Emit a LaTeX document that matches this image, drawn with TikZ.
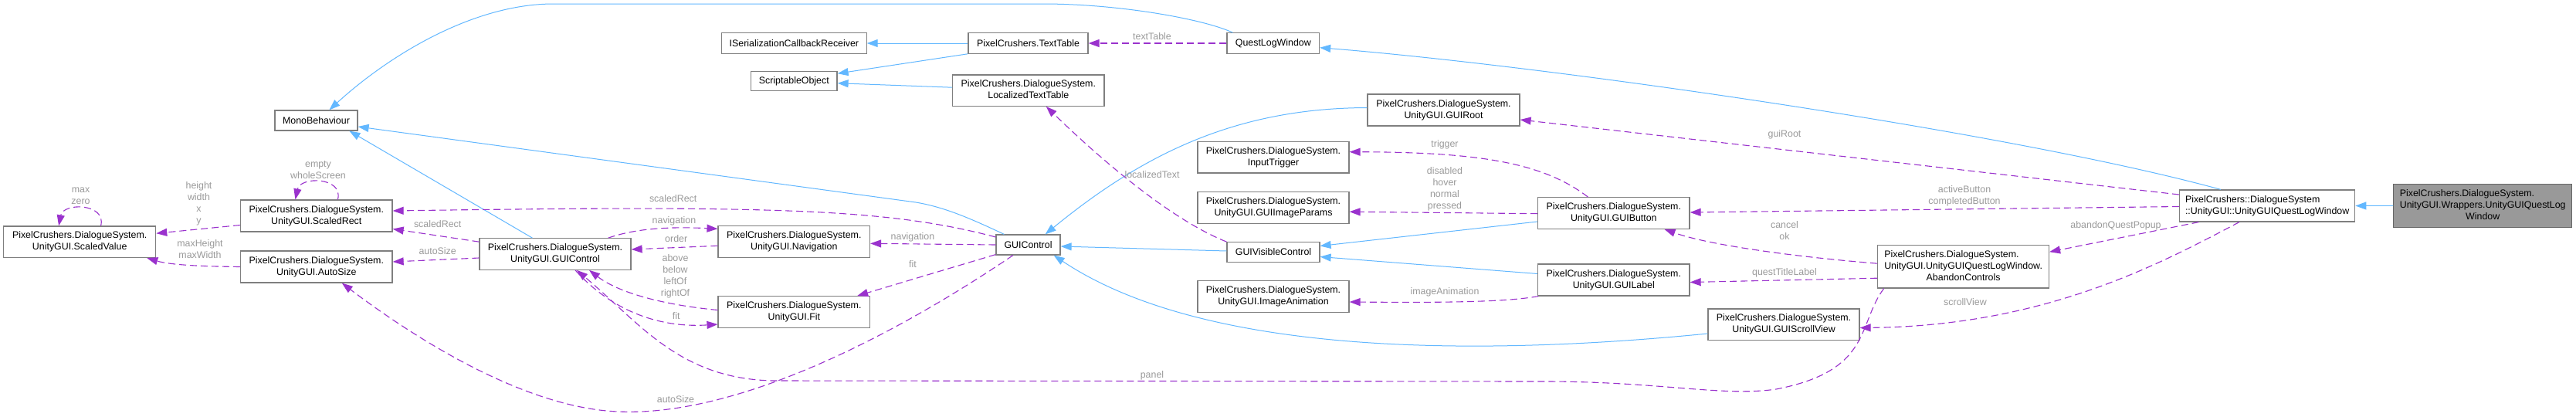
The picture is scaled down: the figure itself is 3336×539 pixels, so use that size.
\documentclass[tikz,border=0pt]{standalone}
\usepackage{fontspec}
\setmainfont{Liberation Sans}
\usetikzlibrary{arrows.meta,calc}
\definecolor{inhc}{HTML}{63B8FF}
\definecolor{usec}{HTML}{9A32CD}
\definecolor{lblc}{HTML}{9A9A9A}
\definecolor{boxc}{HTML}{7F7F7F}
\definecolor{grayfill}{HTML}{999999}
\definecolor{grayline}{HTML}{666666}
\newcommand\tcc[1]{\begin{tabular}{@{}c@{}}#1\end{tabular}}
\newcommand\tll[1]{\begin{tabular}{@{}l@{}}#1\end{tabular}}
\newcommand\mcc[1]{\multicolumn{1}{@{}c@{}}{#1}}
\begin{document}
\begin{tikzpicture}[x=1pt,y=-1pt,
  font=\fontsize{12.4}{15}\selectfont,
  cls/.style={draw=boxc, line width=1.2pt, fill=white, inner sep=0pt, text=black},
  inh/.style={draw=inhc, line width=1pt, -{Triangle[length=14pt,width=10pt]}},
  use/.style={draw=usec, line width=1.1pt, dash pattern=on 9pt off 5pt, -{Triangle[length=14pt,width=10pt]}},
  lbl/.style={text=lblc, inner sep=0pt}]
\fill[white] (0,0) rectangle (3336,539);
\useasboundingbox (0,0) rectangle (3336,539);

% nodes
\node[cls,minimum width=197pt,minimum height=40.5pt] (SV) at (103.2,313.2) {\tcc{PixelCrushers.DialogueSystem.\\UnityGUI.ScaledValue}};
\node[cls,minimum width=196.5pt,minimum height=41pt] (SR) at (409.8,279.5) {\tcc{PixelCrushers.DialogueSystem.\\UnityGUI.ScaledRect}};
\node[cls,minimum width=196.5pt,minimum height=41pt] (AS) at (409.8,345.5) {\tcc{PixelCrushers.DialogueSystem.\\UnityGUI.AutoSize}};
\node[cls,minimum width=107pt,minimum height=26pt] (MB) at (409.5,156) {MonoBehaviour};
\node[cls,minimum width=196pt,minimum height=40.5pt] (UGC) at (719,329) {\tcc{PixelCrushers.DialogueSystem.\\UnityGUI.GUIControl}};
\node[cls,minimum width=196.5pt,minimum height=41pt] (NAV) at (1028.3,313.3) {\tcc{PixelCrushers.DialogueSystem.\\UnityGUI.Navigation}};
\node[cls,minimum width=196.5pt,minimum height=40.6pt] (FIT) at (1028.3,404) {\tcc{PixelCrushers.DialogueSystem.\\UnityGUI.Fit}};
\node[cls,minimum width=187.4pt,minimum height=26.3pt] (ISCR) at (1028.4,56) {ISerializationCallbackReceiver};
\node[cls,minimum width=111.4pt,minimum height=25pt] (SO) at (1028.3,105.2) {ScriptableObject};
\node[cls,minimum width=155pt,minimum height=26.3pt] (TT) at (1331.5,56) {PixelCrushers.TextTable};
\node[cls,minimum width=196.4pt,minimum height=40.3pt] (LTT) at (1331.8,117.2) {\tcc{PixelCrushers.DialogueSystem.\\LocalizedTextTable}};
\node[cls,minimum width=83pt,minimum height=26pt] (GC) at (1331.5,317) {GUIControl};
\node[cls,minimum width=119.5pt,minimum height=26.3pt] (QLW) at (1648.8,56) {QuestLogWindow};
\node[cls,minimum width=197pt,minimum height=41pt] (GR) at (1869.5,142.5) {\tcc{PixelCrushers.DialogueSystem.\\UnityGUI.GUIRoot}};
\node[cls,minimum width=196pt,minimum height=40.7pt] (IT) at (1649,203.7) {\tcc{PixelCrushers.DialogueSystem.\\InputTrigger}};
\node[cls,minimum width=196pt,minimum height=41pt] (GIP) at (1649,269.2) {\tcc{PixelCrushers.DialogueSystem.\\UnityGUI.GUIImageParams}};
\node[cls,minimum width=120pt,minimum height=25.6pt] (GVC) at (1649,326.5) {GUIVisibleControl};
\node[cls,minimum width=196pt,minimum height=40.6pt] (IA) at (1649,384) {\tcc{PixelCrushers.DialogueSystem.\\UnityGUI.ImageAnimation}};
\node[cls,minimum width=196.5pt,minimum height=40.6pt] (GB) at (2089.8,276) {\tcc{PixelCrushers.DialogueSystem.\\UnityGUI.GUIButton}};
\node[cls,minimum width=196.5pt,minimum height=41pt] (GL) at (2089.8,362.5) {\tcc{PixelCrushers.DialogueSystem.\\UnityGUI.GUILabel}};
\node[cls,minimum width=221.8pt,minimum height=55.7pt] (AC) at (2542.6,345.2) {\tll{PixelCrushers.DialogueSystem.\\UnityGUI.UnityGUIQuestLogWindow.\\\mcc{AbandonControls}}};
\node[cls,minimum width=196pt,minimum height=40.2pt] (GSV) at (2310,420) {\tcc{PixelCrushers.DialogueSystem.\\UnityGUI.GUIScrollView}};
\node[cls,minimum width=227.2pt,minimum height=41pt] (UGQLW) at (2936.1,266.5) {\tll{PixelCrushers::DialogueSystem\\\mcc{::UnityGUI::UnityGUIQuestLogWindow}}};
\node[cls,draw=grayline,fill=grayfill,minimum width=231.2pt,minimum height=56.4pt] (W) at (3215.2,266.4) {\tll{PixelCrushers.DialogueSystem.\\UnityGUI.Wrappers.UnityGUIQuestLog\\\mcc{Window}}};

% inheritance
\draw[inh] (W.west) -- (UGQLW.east);
\draw[inh] ($(UGQLW.north west)+(54,0)$) .. controls (2600,170) and (2000,85) .. ($(QLW.east)+(0,5.7)$);
\draw[inh] ($(QLW.north west)+(8,0)$) .. controls (1560,25) and (1450,5) .. (1350,5) -- (717,5) .. controls (610,5) and (500,75) .. ($(MB.north west)+(71,0)$);
\draw[inh] ($(UGC.north west)+(69,0)$) -- ($(MB.south west)+(97,0)$);
\draw[inh] ($(GC.north west)+(11,0)$) .. controls (1255,282) and (1222,268) .. (1186,262) -- ($(MB.east)+(0,8)$);
\draw[inh] (TT.west) -- (ISCR.east);
\draw[inh] (TT.south west) -- ($(SO.east)+(0,-10)$);
\draw[inh] ($(LTT.west)+(0,-4)$) -- ($(SO.east)+(0,2.5)$);
\draw[inh] ($(GR.west)+(0,-3)$) .. controls (1600,140) and (1480,200) .. ($(GC.north east)+(-20,0)$);
\draw[inh] ($(GVC.west)+(0,-1.5)$) -- ($(GC.east)+(0,2)$);
\draw[inh] ($(GSV.west)+(0,12)$) .. controls (1950,458) and (1570,468) .. ($(GC.south east)+(-9,0)$);
\draw[inh] ($(GB.west)+(0,11)$) -- ($(GVC.east)+(0,-8)$);
\draw[inh] ($(GL.west)+(0,-8)$) -- ($(GVC.east)+(0,6)$);

% usage
\draw[use] (QLW.west) -- (TT.east);
\draw[use] ($(UGQLW.west)+(0,-14.5)$) -- ($(GR.east)+(0,12.5)$);
\draw[use] ($(UGQLW.west)+(0,1)$) -- ($(GB.east)+(0,-1)$);
\draw[use] ($(UGQLW.south west)+(25.5,0)$) -- ($(AC.east)+(0,-19)$);
\draw[use] ($(UGQLW.south west)+(78,0)$) .. controls (2800,340) and (2650,422) .. ($(GSV.east)+(0,4.5)$);
\draw[use] ($(AC.west)+(0,-4)$) .. controls (2330,333) and (2215,318) .. ($(GB.south west)+(164.5,0)$);
\draw[use] ($(AC.west)+(0,15)$) -- ($(GL.east)+(0,3)$);
\draw[use] ($(AC.south west)+(8.5,0)$) .. controls (2405,420) and (2425,480) .. (2300,504) .. controls (2230,514) and (2150,494) .. (2000,494) -- (1000,493) .. controls (880,490) and (830,420) .. ($(UGC.south)+(28,0)$);
\draw[use] ($(GB.north west)+(65.5,0)$) .. controls (2000,212) and (1920,197) .. ($(IT.east)+(0,-7)$);
\draw[use] ($(GB.west)+(0,0.7)$) -- ($(GIP.east)+(0,5)$);
\draw[use] ($(GL.south west)+(1.5,0)$) .. controls (1950,391) and (1880,392) .. ($(IA.east)+(0,7)$);
\draw[use] (GVC.north west) .. controls (1530,290) and (1450,230) .. ($(LTT.south)+(23,0)$);
\draw[use] ($(GC.west)+(0,-10)$) .. controls (1150,270) and (1000,266) .. ($(SR.east)+(0,-6.5)$);
\draw[use] (GC.west) -- ($(NAV.east)+(0,2)$);
\draw[use] ($(GC.south west)+(0,-1)$) -- ($(FIT.north east)+(-17,0)$);
\draw[use] ($(GC.south west)+(22.5,0)$) .. controls (1150,440) and (950,540) .. (800,533) .. controls (680,528) and (540,440) .. ($(AS.south)+(33,0)$);
\draw[use] ($(UGC.north west)+(0,5)$) -- ($(SR.east)+(0,17)$);
\draw[use] ($(UGC.west)+(0,5)$) -- ($(AS.east)+(0,-6.5)$);
\draw[use] ($(UGC.north east)+(-30,0)$) .. controls (820,297) and (860,293) .. ($(NAV.west)+(0,-17)$);
\draw[use] ($(NAV.west)+(0,5)$) -- ($(UGC.east)+(0,-6)$);
\draw[use] ($(FIT.west)+(0,-2.5)$) .. controls (870,396) and (805,382) .. ($(UGC.south)+(44,0)$);
\draw[use] ($(UGC.south)+(26,0)$) .. controls (790,400) and (850,425) .. ($(FIT.west)+(0,16)$);
\draw[use] ($(SR.west)+(0,12)$) -- ($(SV.east)+(0,-11)$);
\draw[use] (AS.west) .. controls (260,345) and (220,343) .. ($(SV.south east)+(-12,0)$);
\draw[use] ($(SV.north west)+(126.5,0)$) .. controls (138,263) and (82,262) .. ($(SV.north west)+(72,0)$);
\draw[use] ($(SR.north west)+(126.5,0)$) .. controls (445,229) and (389,228) .. ($(SR.north west)+(71.5,0)$);

% labels
\node[lbl] (l1) at (1492,48) {\tcc{textTable}};
\node[lbl] (l2) at (2311,174) {\tcc{guiRoot}};
\node[lbl] (l3) at (2544,254) {\tcc{activeButton\\completedButton}};
\node[lbl] (l4) at (2740,292) {\tcc{abandonQuestPopup}};
\node[lbl] (l5) at (2545,392) {\tcc{scrollView}};
\node[lbl] (l6) at (2311,299.6) {\tcc{cancel\\ok}};
\node[lbl] (l7) at (2311,353.4) {\tcc{questTitleLabel}};
\node[lbl] (l8) at (1492,486) {\tcc{panel}};
\node[lbl] (l9) at (1871,187) {\tcc{trigger}};
\node[lbl] (l10) at (1871,244.5) {\tcc{disabled\\hover\\normal\\pressed}};
\node[lbl] (l11) at (1871,378.7) {\tcc{imageAnimation}};
\node[lbl] (l12) at (1492,227) {\tcc{localizedText}};
\node[lbl] (l13) at (871.7,258.7) {\tcc{scaledRect}};
\node[lbl] (l14) at (1182,307) {\tcc{navigation}};
\node[lbl] (l15) at (1182,343.7) {\tcc{fit}};
\node[lbl] (l16) at (875,518.7) {\tcc{autoSize}};
\node[lbl] (l17) at (566.7,291.7) {\tcc{scaledRect}};
\node[lbl] (l18) at (566.7,326.7) {\tcc{autoSize}};
\node[lbl] (l19) at (873,286.7) {\tcc{navigation}};
\node[lbl] (l20) at (875.7,310.7) {\tcc{order}};
\node[lbl] (l21) at (874.5,357.5) {\tcc{above\\below\\leftOf\\rightOf}};
\node[lbl] (l22) at (875.7,410.3) {\tcc{fit}};
\node[lbl] (l23) at (257.5,263.5) {\tcc{height\\width\\x\\y}};
\node[lbl] (l24) at (259,324) {\tcc{maxHeight\\maxWidth}};
\node[lbl] (l25) at (104.5,253.5) {\tcc{max\\zero}};
\node[lbl] (l26) at (412,220.5) {\tcc{empty\\wholeScreen}};
\end{tikzpicture}
\end{document}
